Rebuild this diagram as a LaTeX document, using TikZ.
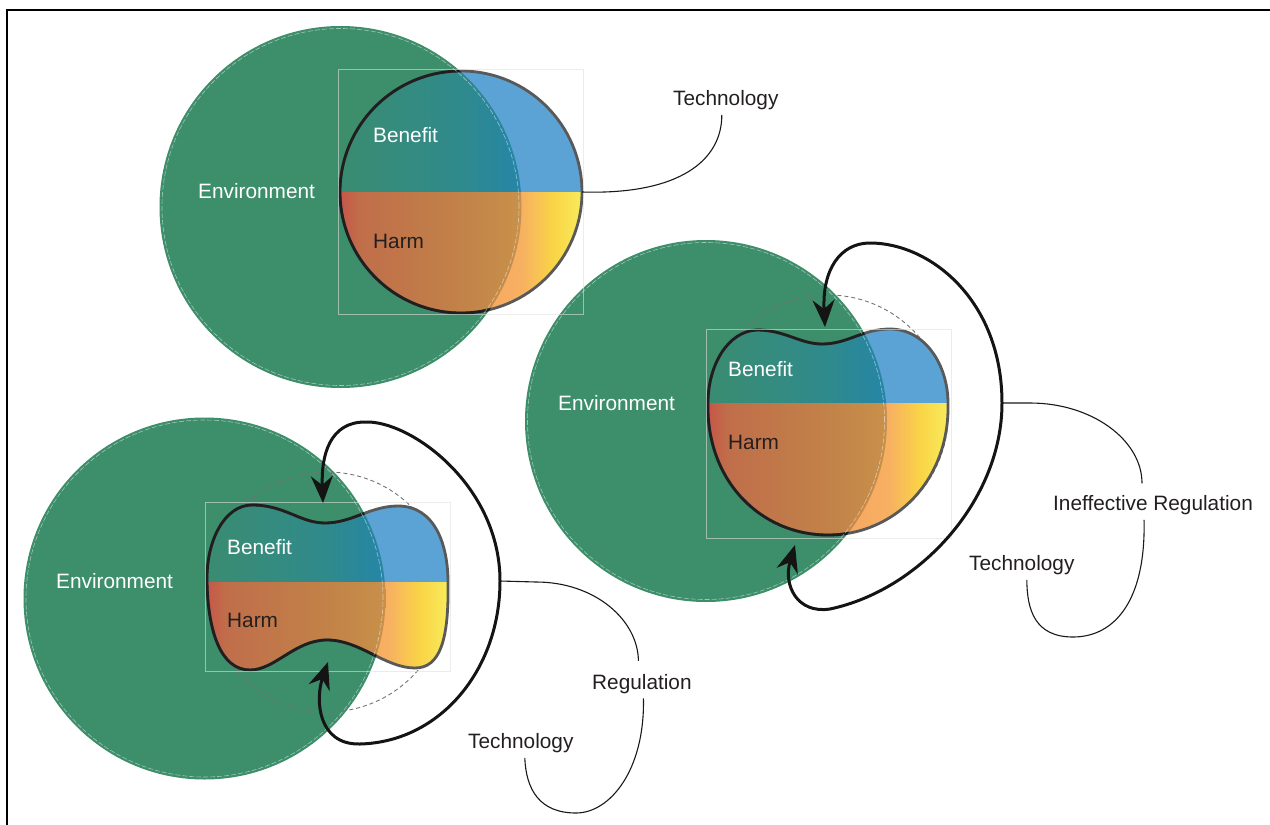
\documentclass[tikz,border=0pt]{standalone}
\usepackage{fontspec}
\setmainfont{Liberation Sans}
\usetikzlibrary{arrows.meta}
\usepackage{xcolor}

\definecolor{envgreen}{RGB}{61,142,106}
\definecolor{benblue}{RGB}{91,162,213}
\definecolor{inkdark}{RGB}{35,31,32}
\definecolor{benin1}{RGB}{58,140,112}
\definecolor{benin2}{RGB}{47,138,140}
\definecolor{benin3}{RGB}{37,133,168}
\definecolor{benin4}{RGB}{35,130,176}
\definecolor{harmin1}{RGB}{198,86,72}
\definecolor{harmin2}{RGB}{192,110,74}
\definecolor{harmin3}{RGB}{194,130,72}
\definecolor{harmin4}{RGB}{200,145,74}
\definecolor{harmout1}{RGB}{244,140,100}
\definecolor{harmout2}{RGB}{247,176,98}
\definecolor{harmout3}{RGB}{249,212,70}
\definecolor{harmout4}{RGB}{248,236,92}

\pgfdeclarehorizontalshading{benefitin}{100bp}{color(0bp)=(benin1); color(25bp)=(benin1); color(50bp)=(benin2); color(62.5bp)=(benin3); color(75bp)=(benin4); color(100bp)=(benin4)}
\pgfdeclarehorizontalshading{harmin}{100bp}{color(0bp)=(harmin1); color(25bp)=(harmin1); color(29bp)=(harmin2); color(50bp)=(harmin3); color(62.5bp)=(harmin4); color(100bp)=(harmin4)}
\pgfdeclarehorizontalshading{harmout}{100bp}{color(0bp)=(harmout1); color(25bp)=(harmout1); color(62.5bp)=(harmout2); color(69bp)=(harmout3); color(75bp)=(harmout4); color(100bp)=(harmout4)}

% technology shapes
\newcommand{\techone}{(461,192) circle[radius=121pt]}
\newcommand{\techtwo}{(708,403) .. controls (708,365) and (728,331) .. (757,330)
  .. controls (785,330) and (800,344) .. (822,344)
  .. controls (848,344) and (862,329) .. (890,329)
  .. controls (925,329) and (948,365) .. (948,403)
  .. controls (950,480) and (895,535) .. (828,535)
  .. controls (760,535) and (706,480) .. (708,403) -- cycle}
\newcommand{\techthree}{(207,582) .. controls (206,540) and (225,505) .. (252,505)
  .. controls (285,505) and (300,523) .. (325,523)
  .. controls (352,523) and (370,506) .. (398,506)
  .. controls (435,506) and (448,545) .. (448,582)
  .. controls (449,640) and (440,668) .. (415,668)
  .. controls (385,668) and (360,640) .. (327,640)
  .. controls (295,640) and (275,670) .. (250,670)
  .. controls (220,670) and (208,630) .. (207,582) -- cycle}

% #1 shape, #2 environment centre, #3 xmin, #4 xmax, #5 ytop, #6 ysplit, #7 ybottom
\newcommand{\techfill}[7]{%
  \begin{scope}
    \clip #1;
    \fill[benblue] (#3,#5) rectangle (#4,#6);
    \shade[shading=harmout] (#3,#6) rectangle (#4,#7);
    \clip #2 circle[radius=181pt];
    \shade[shading=benefitin] (#3,#5) rectangle (#4,#6);
    \shade[shading=harmin] (#3,#6) rectangle (#4,#7);
  \end{scope}
  \draw[techline] #1;
  \begin{scope}
    \clip #2 circle[radius=181pt];
    \draw[techline, draw=black!88] #1;
  \end{scope}}

\begin{document}
\begin{tikzpicture}[x=1pt,y=-1pt]
	\tikzset{env/.style = {fill=envgreen}}
	\tikzset{envrim/.style = {draw=white, draw opacity=0.5, line width=0.6pt, dash pattern=on 5pt off 2pt}}
	\tikzset{ghost/.style = {draw=black!55, line width=0.9pt, dash pattern=on 4pt off 3pt}}
	\tikzset{techline/.style = {draw=black!65, line width=2.8pt}}
	\tikzset{boxline/.style = {draw=black!12, draw opacity=0.6, line width=0.8pt}}
	\tikzset{feedback/.style = {draw=black!92, line width=3pt, {Stealth[length=27pt,width=22pt,inset=9pt]}-{Stealth[length=27pt,width=22pt,inset=9pt]}}}
	\tikzset{lead/.style = {draw=black!90, line width=1.1pt}}
	\tikzset{tag/.style = {font=\fontsize{20.8}{25}\selectfont, inner sep=0pt, outer ysep=5pt, anchor=base west, text=inkdark}}
	\tikzset{wtag/.style = {tag, text=white}}
	\useasboundingbox (0,0) rectangle (1270,825);
	\coordinate (e1) at (340.5,207);
	\coordinate (e2) at (706,421);
	\coordinate (e3) at (204.5,598.5);
	\coordinate (t1east) at (582,192);
	\coordinate (l2east) at (1002,403);
	\coordinate (l3east) at (500,581);
	\coordinate (b2up) at (825,327);
	\coordinate (b2low) at (795,545);
	\coordinate (b3up) at (323,503);
	\coordinate (b3low) at (328,662);
	%environments
	\fill[env] (e1) circle[radius=181pt];
	\fill[env] (e2) circle[radius=181pt];
	\fill[env] (e3) circle[radius=181pt];
	\draw[ghost] (828,415) circle[radius=120pt];
	\draw[ghost] (327,592) circle[radius=120pt];
	%technology
	\techfill{\techone}{(e1)}{340}{582}{65}{192}{318}
	\techfill{\techtwo}{(e2)}{708}{949}{325}{403}{540}
	\techfill{\techthree}{(e3)}{206}{449}{500}{582}{675}
	\draw[envrim] (e1) circle[radius=178.5pt];
	\draw[envrim] (e2) circle[radius=178.5pt];
	\draw[envrim] (e3) circle[radius=178.5pt];
	\draw[boxline] (338,69) rectangle (583,314);
	\draw[boxline] (706,329) rectangle (951,538);
	\draw[boxline] (205.5,502.5) rectangle (450,671);
	%labels
	\node[wtag] (env1) at (198,198.5) {Environment};
	\node[wtag] (ben1) at (373,142.5) {Benefit};
	\node[tag] (harm1) at (373,248.5) {Harm};
	\node[tag] (tech1) at (673,105.5) {Technology};
	\node[wtag] (env2) at (558,410.5) {Environment};
	\node[wtag] (ben2) at (728,376.5) {Benefit};
	\node[tag] (harm2) at (728,449.5) {Harm};
	\node[tag] (ineff) at (1053,510.5) {Ineffective Regulation};
	\node[tag] (tech2) at (969,570.5) {Technology};
	\node[wtag] (env3) at (56,588.5) {Environment};
	\node[wtag] (ben3) at (227,554.5) {Benefit};
	\node[tag] (harm3) at (227,627.5) {Harm};
	\node[tag] (reg) at (592,689) {Regulation};
	\node[tag] (tech3) at (468,748.5) {Technology};
	%loops
	\draw[feedback] (b2low) .. controls (783,585) and (797,614) .. (830,609)
		.. controls (920,590) and (1002,500) .. (l2east)
		.. controls (1002,300) and (930,243) .. (870,243)
		.. controls (840,243) and (822,270) .. (b2up);
	\draw[feedback] (b3low) .. controls (315,700) and (318,745) .. (360,744)
		.. controls (440,742) and (500,670) .. (l3east)
		.. controls (500,485) and (410,420) .. (365,422)
		.. controls (330,422) and (321,455) .. (b3up);
	%leads
	\draw[lead] (t1east) .. controls (680,195) and (722,160) .. ([xshift=-4pt]tech1.south);
	\draw[lead] (l2east) -- (1030,403) .. controls (1092,403) and (1142,440) .. ([xshift=-11pt,yshift=7pt]ineff.north);
	\draw[lead] ([xshift=-9pt]ineff.south) .. controls (1146,600) and (1115,637) .. (1073,637)
		.. controls (1035,637) and (1027,610) .. ([xshift=5pt]tech2.south);
	\draw[lead] (l3east) -- (536,582) .. controls (595,582) and (638,620) .. ([xshift=-3.5pt,yshift=8pt]reg.north);
	\draw[lead] ([xshift=1.5pt]reg.south) .. controls (645,770) and (610,813) .. (576,813)
		.. controls (540,813) and (526,790) .. ([xshift=4pt]tech3.south);
	%frame
	\draw[line width=2pt] (1270,10) -- (7,10) -- (7,825);
\end{tikzpicture}
\end{document}
